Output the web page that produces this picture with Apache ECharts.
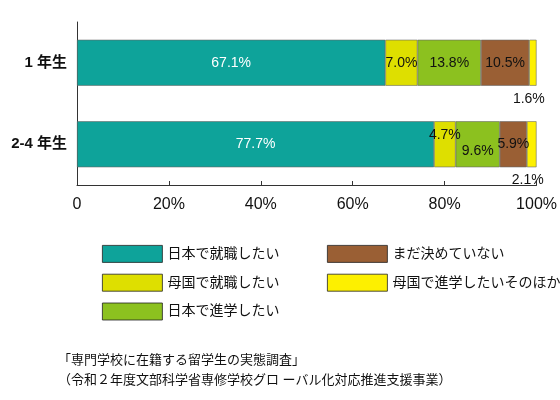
<!DOCTYPE html>
<html><head><meta charset="utf-8">
<script src="https://cdn.jsdelivr.net/npm/echarts@6/dist/echarts.min.js"></script>
<style>body{margin:0;background:#fff}#main{width:560px;height:400px}</style>
</head><body><div id="main"></div>
<script>
var categories = ['1 年生', '2-4 年生'];
var seriesNames = ['日本で就職したい', '母国で就職したい', '日本で進学したい', 'まだ決めていない', '母国で進学したいそのほか'];
var colors = ['#0ea39a', '#dedf00', '#8cc11f', '#9a5f34', '#fdf000'];
var values = [
    [67.1, 77.7],
    [7.0, 4.7],
    [13.8, 9.6],
    [10.5, 5.9],
    [1.6, 2.1]
];
var xTicks = [0, 20, 40, 60, 80, 100];

var font = 'Liberation Sans, Noto Sans CJK JP, sans-serif';
var myChart = echarts.init(document.getElementById('main'));

var series = seriesNames.map(function (name, i) {
    var last = i === seriesNames.length - 1;
    return {
        name: name,
        type: 'bar',
        stack: 'all',
        barWidth: 46,
        itemStyle: {color: colors[i], borderColor: '#666', borderWidth: 0.6},
        label: {
            show: true,
            position: last ? 'bottom' : 'inside',
            offset: last ? [-4, 1] : [0, 0],
            color: i === 0 ? '#fff' : '#111',
            fontSize: 14,
            fontFamily: font,
            formatter: function (p) { return p.value.toFixed(1) + '%'; }
        },
        data: values[i].map(function (v, j) {
            var d = {value: v};
            if (i === 1 && j === 1) d.label = {offset: [0, -9]};
            if (i === 2 && j === 1) d.label = {offset: [0, 7]};
            return d;
        })
    };
});

var legendStyle = {
    orient: 'vertical', top: 240, itemGap: 11, itemWidth: 60, itemHeight: 17,
    icon: 'rect', selectedMode: false,
    itemStyle: {borderColor: '#222', borderWidth: 0.8},
    textStyle: {fontSize: 14, fontFamily: font, color: '#111'}
};

myChart.setOption({
    animation: false,
    grid: {left: 77, right: 21, top: 22, height: 163},
    legend: [
        Object.assign({data: seriesNames.slice(0, 3), left: 97}, legendStyle),
        Object.assign({data: seriesNames.slice(3), left: 322}, legendStyle)
    ],
    xAxis: {
        type: 'value', min: 0, max: 100, interval: 20,
        splitLine: {show: false},
        axisLine: {show: true, lineStyle: {color: '#333'}},
        axisTick: {show: true, inside: true, length: 4, lineStyle: {color: '#333'}},
        axisLabel: {
            color: '#111', fontSize: 16, fontFamily: font, margin: 12,
            formatter: function (v) { return xTicks.indexOf(v) === 0 ? '0' : v + '%'; }
        }
    },
    yAxis: {
        type: 'category', data: categories, inverse: true,
        axisLine: {show: true, lineStyle: {color: '#333'}},
        axisTick: {show: false},
        axisLabel: {color: '#111', fontSize: 15, fontWeight: 'bold', fontFamily: font, margin: 10}
    },
    graphic: [
        {type: 'text', left: 58, top: 354, style: {text: '「専門学校に在籍する留学生の実態調査」', fontSize: 13, fontFamily: font, fill: '#111'}},
        {type: 'text', left: 58, top: 374, style: {text: '（令和２年度文部科学省専修学校グロ ーバル化対応推進支援事業）', fontSize: 13, fontFamily: font, fill: '#111'}}
    ],
    series: series
});
</script>
</body></html>
